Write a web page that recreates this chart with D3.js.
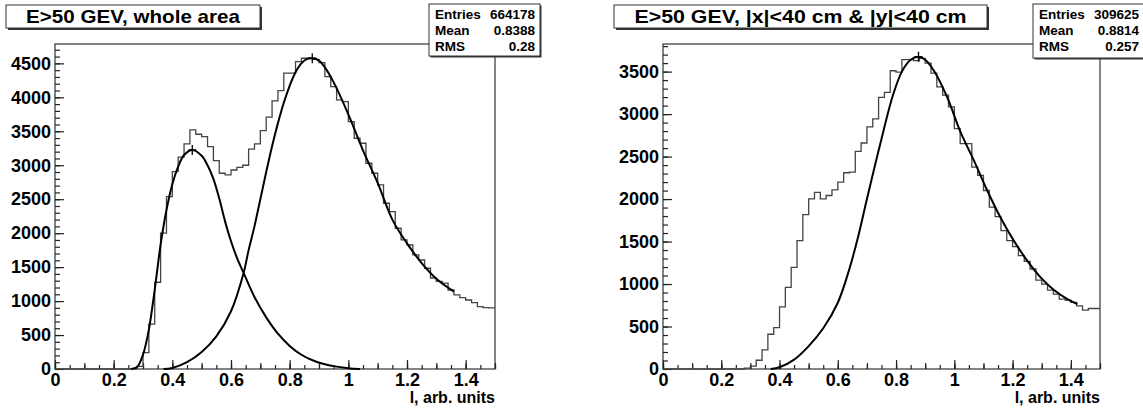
<!DOCTYPE html>
<html>
  <head>
    <meta charset="utf-8">
    <title>E>50 GEV histograms</title>
    <script src="https://cdn.jsdelivr.net/npm/d3@7"></script>
    <style>
      body { margin: 0; background: #fff; }
      svg { display: block; font-family: "Liberation Sans", Arial, sans-serif; font-weight: bold; }
      .tick line { stroke: #222; }
      .domain { display: none; }
    </style>
  </head>

  <body>
    <svg id="chart" width="1143" height="409"></svg>

    <script>
      // bin width 0.02, 75 bins from 0 to 1.5
      binWidth = 0.02;

      // whole area, counts per bin
      leftCounts = [
        0, 0, 0, 0, 0, 0, 0, 0, 0, 0, 0, 0, 0,
        5, 40, 240, 660, 1277, 2000, 2538, 2906, 3118, 3314, 3520,
        3456, 3422, 3274, 3068, 2882, 2857, 2930, 2970, 3000, 3236,
        3314, 3510, 3707, 3947, 4100, 4355, 4355, 4526, 4575, 4575,
        4560, 4511, 4305, 4158, 3962, 3937, 3642, 3397, 3324, 3029,
        2882, 2710, 2440, 2317, 2072, 1900, 1826, 1679, 1605, 1483,
        1340, 1290, 1265, 1163, 1090, 1050, 1016, 976, 917, 905, 900
      ];

      // |x|<40 cm & |y|<40 cm, counts per bin
      rightCounts = [
        0, 0, 0, 0, 0, 0, 0, 0, 0, 0, 0, 0, 0, 0,
        10, 35, 103, 224, 409, 488, 732, 960, 1196, 1511, 1818,
        2003, 2078, 2003, 2042, 2109, 2200, 2310, 2318, 2562, 2660,
        2849, 2943, 3196, 3255, 3510, 3494, 3640, 3640, 3630, 3655,
        3600, 3483, 3321, 3223, 3085, 2830, 2653, 2653, 2377, 2279,
        2101, 1904, 1794, 1629, 1511, 1440, 1334, 1267, 1177, 1047,
        1000, 929, 882, 823, 811, 783, 744, 693, 712, 712
      ];

      // fitted curves as [l, count]
      leftFitLow = [
        [0.26, 0], [0.28, 30], [0.30, 210], [0.32, 580], [0.34, 1170], [0.36, 1830],
        [0.38, 2340], [0.40, 2720], [0.42, 2980], [0.44, 3150], [0.468, 3225],
        [0.50, 3140], [0.52, 3000], [0.54, 2800], [0.56, 2510], [0.58, 2170],
        [0.60, 1880], [0.62, 1640], [0.643, 1414], [0.68, 1060], [0.72, 760],
        [0.76, 520], [0.80, 340], [0.84, 210], [0.88, 125], [0.92, 70],
        [0.96, 35], [1.00, 12], [1.04, 0]
      ];
      leftFitHigh = [
        [0.37, 0], [0.40, 15], [0.45, 100], [0.50, 250], [0.55, 480], [0.60, 850],
        [0.643, 1414], [0.66, 1750], [0.68, 2100], [0.70, 2500], [0.72, 2900],
        [0.74, 3280], [0.76, 3620], [0.78, 3920], [0.80, 4170], [0.82, 4370],
        [0.84, 4500], [0.86, 4565], [0.877, 4575], [0.90, 4540], [0.92, 4440],
        [0.95, 4220], [1.00, 3750], [1.05, 3220], [1.10, 2740], [1.15, 2200],
        [1.20, 1850], [1.25, 1560], [1.30, 1330], [1.36, 1140]
      ];
      rightFit = [
        [0.37, 0], [0.40, 20], [0.45, 110], [0.50, 270], [0.55, 480], [0.60, 780],
        [0.64, 1180], [0.67, 1560], [0.70, 2000], [0.745, 2640], [0.79, 3230],
        [0.82, 3500], [0.85, 3640], [0.877, 3675], [0.90, 3640], [0.93, 3510],
        [0.975, 3203], [1.021, 2790], [1.067, 2456], [1.113, 2101], [1.158, 1786],
        [1.204, 1511], [1.25, 1275], [1.296, 1078], [1.342, 929], [1.388, 823],
        [1.422, 764]
      ];

      leftPeaks = [[0.468, 3225], [0.877, 4575]];
      rightPeaks = [[0.877, 3675]];

      titles = ["E>50 GEV, whole area", "E>50 GEV, |x|<40 cm & |y|<40 cm"];
      statNames = ["Entries", "Mean", "RMS"];
      leftStats = ["664178", "0.8388", "0.28"];
      rightStats = ["309625", "0.8814", "0.257"];
      xTitle = "l, arb. units";

      // layout of the two pads
      panels = [
        { counts: leftCounts, fits: [leftFitLow, leftFitHigh], peaks: leftPeaks, stats: leftStats, title: titles[0],
          left: 55, right: 495, top: 44, bottom: 369, ymax: 4785,
          titleBox: [6, 5, 254, 23], titleLen: 214, statBox: [429, 4, 111, 52] },
        { counts: rightCounts, fits: [rightFit], peaks: rightPeaks, stats: rightStats, title: titles[1],
          left: 663, right: 1100, top: 44, bottom: 369, ymax: 3825,
          titleBox: [614, 5, 373, 23], titleLen: 332, statBox: [1033, 4, 112, 54] }
      ];

      svg = d3.select("#chart");

      panels.forEach(function(p) {
        g = svg.append("g");

        x = d3.scaleLinear().domain([0, 1.5]).range([p.left, p.right]);
        y = d3.scaleLinear().domain([0, p.ymax]).range([p.bottom, p.top]);

        // frame
        g.append("rect")
          .attr("x", p.left).attr("y", p.top)
          .attr("width", p.right - p.left).attr("height", p.bottom - p.top)
          .attr("fill", "none").attr("stroke", "#333").attr("stroke-width", 1.2);

        // y axis: inner ticks
        g.append("g").attr("transform", "translate(" + p.left + ",0)")
          .call(d3.axisLeft(y).tickValues(d3.range(100, p.ymax, 100)).tickSize(-5).tickFormat(""));
        g.append("g").attr("transform", "translate(" + p.left + ",0)")
          .call(d3.axisLeft(y).tickValues(d3.range(0, p.ymax, 500)).tickSize(-9).tickPadding(4).tickFormat(d3.format("d")))
          .selectAll("text").attr("font-size", 18).attr("fill", "#000").attr("font-family", null);

        // x axis: inner ticks
        g.append("g").attr("transform", "translate(0," + p.bottom + ")")
          .call(d3.axisBottom(x).tickValues(d3.range(0, 1.5001, 0.05)).tickSize(-4).tickFormat(""));
        g.append("g").attr("transform", "translate(0," + p.bottom + ")")
          .call(d3.axisBottom(x).tickValues(d3.range(0, 1.5001, 0.1)).tickSize(-6).tickFormat(""));
        g.append("g").attr("transform", "translate(0," + p.bottom + ")")
          .call(d3.axisBottom(x).tickValues(d3.range(0, 1.41, 0.2)).tickSize(-9).tickPadding(4).tickFormat(d3.format("~g")))
          .selectAll("text").attr("font-size", 18).attr("fill", "#000").attr("font-family", null);
        g.selectAll(".tick line").attr("stroke-width", 1.2);

        // axis title
        g.append("text")
          .attr("x", p.right).attr("y", 403)
          .attr("text-anchor", "end").attr("font-size", 16)
          .text(xTitle);

        // histogram outline
        steps = p.counts.map(function(c, i) { return [i * binWidth, c]; });
        steps.push([1.5, p.counts[p.counts.length - 1]]);
        g.append("path")
          .datum(steps)
          .attr("fill", "none").attr("stroke", "#444").attr("stroke-width", 1.3)
          .attr("d", d3.line().curve(d3.curveStepAfter)
            .x(function(d) { return x(d[0]); })
            .y(function(d) { return y(d[1]); }));

        // fits
        p.fits.forEach(function(f) {
          g.append("path")
            .datum(f)
            .attr("fill", "none").attr("stroke", "#000").attr("stroke-width", 2)
            .attr("d", d3.line().curve(d3.curveCatmullRom.alpha(0.5))
              .x(function(d) { return x(d[0]); })
              .y(function(d) { return y(d[1]); }));
        });

        // peak markers
        p.peaks.forEach(function(d) {
          g.append("path")
            .attr("stroke", "#000").attr("stroke-width", 1.3)
            .attr("d", "M" + (x(d[0]) - 4) + "," + y(d[1]) + "h8M" + x(d[0]) + "," + (y(d[1]) - 5) + "v10");
        });

        // title box
        tb = p.titleBox;
        g.append("rect")
          .attr("x", tb[0] + 2).attr("y", tb[1] + 2).attr("width", tb[2]).attr("height", tb[3])
          .attr("fill", "#333");
        g.append("rect")
          .attr("x", tb[0]).attr("y", tb[1]).attr("width", tb[2]).attr("height", tb[3])
          .attr("fill", "#fff").attr("stroke", "#333").attr("stroke-width", 1);
        g.append("text")
          .attr("x", tb[0] + tb[2] / 2).attr("y", tb[1] + 18)
          .attr("text-anchor", "middle").attr("font-size", 19)
          .attr("textLength", p.titleLen).attr("lengthAdjust", "spacingAndGlyphs")
          .text(p.title);

        // stats box
        sb = p.statBox;
        g.append("rect")
          .attr("x", sb[0] + 1.5).attr("y", sb[1] + 1.5).attr("width", sb[2]).attr("height", sb[3])
          .attr("fill", "#333");
        g.append("rect")
          .attr("x", sb[0]).attr("y", sb[1]).attr("width", sb[2]).attr("height", sb[3])
          .attr("fill", "#fff").attr("stroke", "#333").attr("stroke-width", 1);
        statNames.forEach(function(name, i) {
          g.append("text")
            .attr("x", sb[0] + 6).attr("y", sb[1] + 15 + i * 16)
            .attr("font-size", 13.5)
            .text(name);
          g.append("text")
            .attr("x", Math.min(sb[0] + sb[2] - 5, 1139)).attr("y", sb[1] + 15 + i * 16)
            .attr("text-anchor", "end").attr("font-size", 13.5)
            .text(p.stats[i]);
        });
      });
    </script>
  </body>
</html>
